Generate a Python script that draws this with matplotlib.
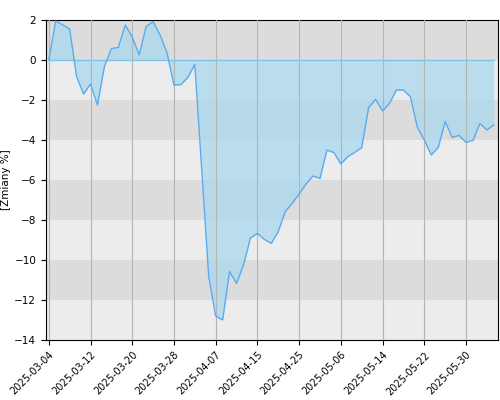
import matplotlib
matplotlib.use('Agg')
import matplotlib.pyplot as plt

# values (one per trading day)
values = [0, 1.95, 1.75, 1.55, -0.83, -1.7, -1.2, -2.25, -0.33, 0.57, 0.63, 1.75,
          1.15, 0.25, 1.67, 1.92, 1.25, 0.37, -1.25, -1.23, -0.87, -0.22, -5.5, -10.83,
          -12.8, -13.0, -10.58, -11.17, -10.25, -8.9, -8.67, -8.97,
          -9.17, -8.58, -7.58, -7.17, -6.7, -6.2, -5.8, -5.92, -4.5, -4.63, -5.2, -4.83,
          -4.62, -4.38, -2.38, -1.97, -2.55, -2.17, -1.5, -1.5, -1.83, -3.37, -4.0, -4.75,
          -4.38, -3.08, -3.87, -3.77, -4.12, -4.02, -3.17, -3.5, -3.25]
tick_labels = ['2025-03-04', '2025-03-12', '2025-03-20', '2025-03-28', '2025-04-07',
               '2025-04-15', '2025-04-25', '2025-05-06', '2025-05-14', '2025-05-22',
               '2025-05-30']
tick_step = 6

x = list(range(len(values)))

fig = plt.figure(figsize=(5, 4), dpi=100)
ax = fig.add_axes([0.092, 0.15, 0.904, 0.8])

# alternating background bands
for lo in range(-14, 2, 2):
    band = '#dcdcdc' if (lo // 2) % 2 == 0 else '#ececec'
    ax.axhspan(lo, lo + 2, color=band, zorder=0, lw=0)

ax.fill_between(x, values, 0, color='#a8d8ee', alpha=0.75, zorder=2, lw=0)
ax.plot([x[0], x[-1]], [0, 0], color='#7cc4ec', lw=1, zorder=3)
ax.plot(x, values, color='#5aabf0', lw=1, zorder=3)

ticks = [i * tick_step for i in range(len(tick_labels))]
ax.set_xticks(ticks)
ax.set_xticklabels(tick_labels, rotation=45, ha='right', rotation_mode='anchor', fontsize=7)
ax.grid(axis='x', color='#b4b4b4', lw=0.8, zorder=1)
ax.set_axisbelow(False)
ax.set_xlim(-0.4, len(values) - 0.4)
ax.set_ylim(-14, 2)
ax.set_yticks(range(-14, 3, 2))
ax.tick_params(axis='y', labelsize=7.5)
ax.set_ylabel('[Zmiany %]', fontsize=7.5, labelpad=2)

fig.savefig('out.png')
